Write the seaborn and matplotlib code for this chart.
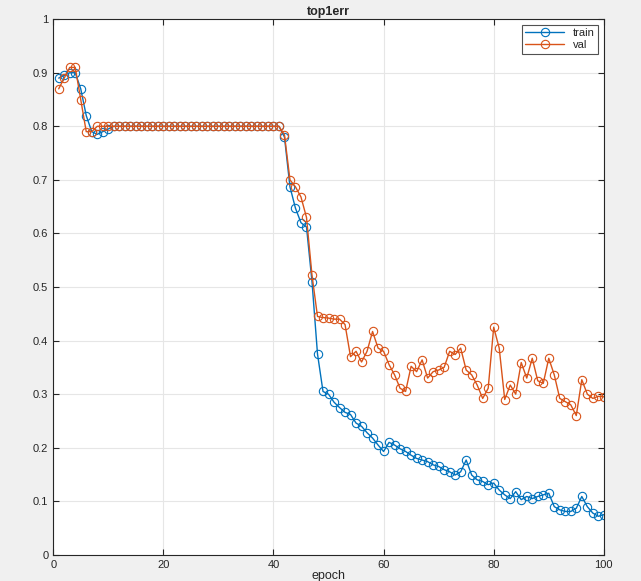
import numpy as np
import pandas as pd
import matplotlib
matplotlib.use("Agg")
import matplotlib.pyplot as plt
import seaborn as sns

# top1 error per epoch
epochs = list(range(1, 101))

train_err = ([0.89, 0.895, 0.90, 0.90, 0.87, 0.82, 0.79, 0.785, 0.79, 0.795]
             + [0.80] * 31
             + [0.78, 0.687, 0.647, 0.62, 0.612, 0.51, 0.375, 0.305, 0.30,
                0.285, 0.275, 0.266, 0.262, 0.246, 0.24, 0.228, 0.218, 0.205, 0.193,
                0.21, 0.205, 0.198, 0.193, 0.186, 0.18, 0.177, 0.174, 0.168, 0.165,
                0.159, 0.155, 0.149, 0.155, 0.177, 0.149, 0.14, 0.137, 0.131, 0.134,
                0.121, 0.112, 0.105, 0.118, 0.103, 0.109, 0.105, 0.109, 0.112, 0.115,
                0.09, 0.084, 0.081, 0.081, 0.087, 0.109, 0.09, 0.078, 0.072, 0.075])

val_err = ([0.87, 0.89, 0.91, 0.91, 0.85, 0.79, 0.79, 0.80, 0.80, 0.80]
           + [0.80] * 31
           + [0.784, 0.70, 0.687, 0.668, 0.63, 0.522, 0.445, 0.443, 0.442,
              0.44, 0.44, 0.43, 0.37, 0.38, 0.36, 0.38, 0.417, 0.386, 0.38,
              0.355, 0.336, 0.311, 0.305, 0.352, 0.342, 0.364, 0.33, 0.342, 0.345,
              0.35, 0.38, 0.374, 0.386, 0.345, 0.336, 0.317, 0.292, 0.311, 0.425,
              0.386, 0.29, 0.317, 0.30, 0.359, 0.33, 0.367, 0.325, 0.32, 0.367,
              0.336, 0.292, 0.286, 0.28, 0.26, 0.327, 0.30, 0.292, 0.296, 0.295])

df = pd.DataFrame({"epoch": epochs, "train": train_err, "val": val_err})

sns.set_style("whitegrid")
plt.rcParams["font.family"] = ["Liberation Sans", "DejaVu Sans"]

fig = plt.figure(figsize=(6.41, 5.81), dpi=100)
fig.patch.set_facecolor("#f0f0f0")
ax = fig.add_axes([0.083, 0.045, 0.859, 0.922])
ax.set_facecolor("white")

# MATLAB default colours, open circle markers
for col, c in [("train", "#0072bd"), ("val", "#d95319")]:
    sns.lineplot(data=df, x="epoch", y=col, ax=ax, color=c, linewidth=1.0,
                 marker="o", markersize=6, markerfacecolor="none",
                 markeredgecolor=c, markeredgewidth=0.8, label=col)

ax.set_xlim(0, 100)
ax.set_ylim(0, 1)
ax.set_xticks(range(0, 101, 20))
ax.set_yticks(np.arange(0, 1.01, 0.1))
ax.set_yticklabels(["0", "0.1", "0.2", "0.3", "0.4", "0.5", "0.6", "0.7", "0.8", "0.9", "1"])
ax.grid(True, color="#e6e6e6", linewidth=0.8)
ax.tick_params(direction="in", length=4, labelsize=8, colors="#262626",
               top=True, right=True, bottom=True, left=True)
for s in ax.spines.values():
    s.set_color("#262626")
    s.set_linewidth(0.8)

ax.set_xlabel("epoch", fontsize=9, labelpad=0)
ax.set_ylabel("")
ax.set_title("top1err", fontsize=9, fontweight="bold", pad=3)

leg = ax.legend(loc="upper right", fontsize=8, frameon=True, fancybox=False,
                edgecolor="#262626", handlelength=3.5, borderpad=0.3, labelspacing=0.2)
leg.get_frame().set_linewidth(0.8)

fig.savefig("out.png", dpi=100, facecolor=fig.get_facecolor())
